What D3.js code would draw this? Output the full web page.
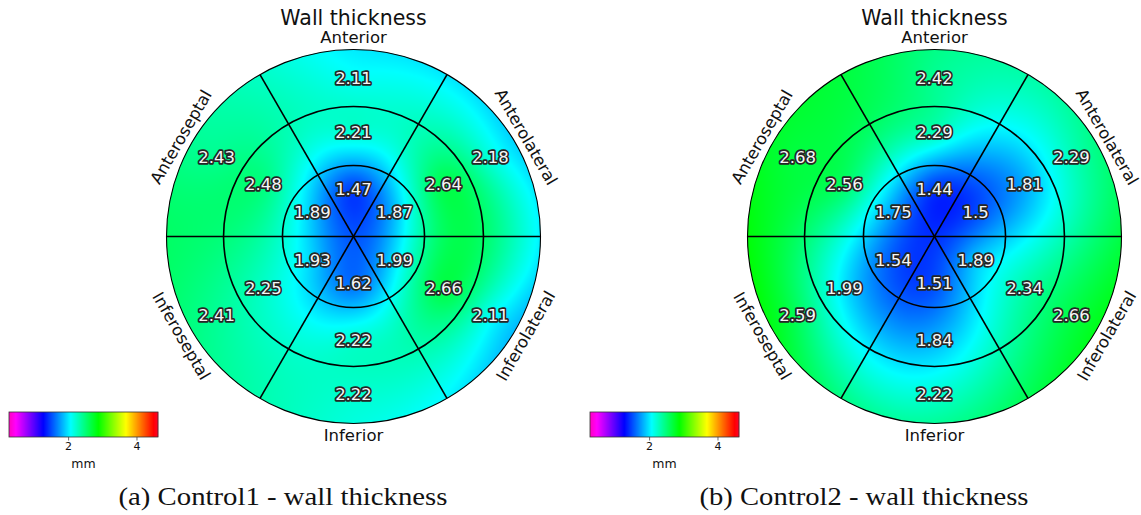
<!DOCTYPE html>
<html><head><meta charset="utf-8">
<script src="https://cdn.jsdelivr.net/npm/d3@7"></script>
<style>body{margin:0;background:#fff} svg{display:block}</style>
</head><body>
<svg id="chart" width="1141" height="515"></svg>
<script>
// ---------- data ----------
const segmentNames  = ["Anterior","Anteroseptal","Inferoseptal","Inferior","Inferolateral","Anterolateral"];
const segmentAngles = [90,150,210,270,330,30];          // degrees, counter-clockwise from +x
const control1Outer = [2.11,2.43,2.41,2.22,2.11,2.18];
const control1Mid   = [2.21,2.48,2.25,2.22,2.66,2.64];
const control1Inner = [1.47,1.89,1.93,1.62,1.99,1.87];
const control2Outer = [2.42,2.68,2.59,2.22,2.66,2.29];
const control2Mid   = [2.29,2.56,1.99,1.84,2.34,1.81];
const control2Inner = [1.44,1.75,1.54,1.51,1.89,1.5];
const ringEdges   = [0.38, 0.695, 1];
const labelRadii  = [0.254, 0.556, 0.845];              // inner, mid, outer
const colorTicks  = [2,4];
const colorDomain = [0.27, 4.63];
const chartTitle  = "Wall thickness";
const unitLabel   = "mm";
const captions    = ["(a) Control1 - wall thickness", "(b) Control2 - wall thickness"];

// gist_rainbow_r colormap stops
const cmapStops  = [0, 0.046, 0.230, 0.414, 0.600, 0.785, 0.970, 1];
const cmapColors = ["#ff00bf","#ff00ff","#0000ff","#00ffff","#00ff00","#ffff00","#ff0000","#ff0029"];

const svg = d3.select("#chart");
const defs = svg.append("defs");

const color = d3.scaleLinear()
  .domain(cmapStops.map(s => colorDomain[0] + s*(colorDomain[1]-colorDomain[0])))
  .range(cmapColors).interpolate(d3.interpolateRgb).clamp(true);

const R = 187;
const rScale = d3.scaleLinear().domain([0,1]).range([0,R]);

// thin plate spline interpolation
function tps(nodes){
  const n = nodes.length, N = n+3;
  const U = r => r<1e-12 ? 0 : r*r*Math.log(r);
  const A = Array.from({length:N}, () => new Array(N+1).fill(0));
  for(let i=0;i<n;i++){
    for(let j=0;j<n;j++){
      A[i][j] = U(Math.hypot(nodes[i].x-nodes[j].x, nodes[i].y-nodes[j].y));
    }
    A[i][n]=1; A[i][n+1]=nodes[i].x; A[i][n+2]=nodes[i].y;
    A[n][i]=1; A[n+1][i]=nodes[i].x; A[n+2][i]=nodes[i].y;
    A[i][N]=nodes[i].v;
  }
  for(let c=0;c<N;c++){
    let p=c; for(let r=c+1;r<N;r++) if(Math.abs(A[r][c])>Math.abs(A[p][c])) p=r;
    [A[c],A[p]]=[A[p],A[c]];
    for(let r=0;r<N;r++){ if(r===c) continue; const f=A[r][c]/A[c][c]; if(f) for(let k=c;k<=N;k++) A[r][k]-=f*A[c][k]; }
  }
  const w = A.map((row,i)=>row[N]/row[i]);
  return (x,y) => {
    let s = w[n] + w[n+1]*x + w[n+2]*y;
    for(let i=0;i<n;i++) s += w[i]*U(Math.hypot(x-nodes[i].x, y-nodes[i].y));
    return s;
  };
}

const rad = d => d*Math.PI/180;

function drawChart(idx, cx, cy, inner, mid, outer, capX){
  const g = svg.append("g");
  const rings = [inner, mid, outer];
  const nodes = [];
  rings.forEach((vals,ri) => vals.forEach((v,si) => {
    const a = rad(segmentAngles[si]);
    nodes.push({x: labelRadii[ri]*Math.cos(a), y: labelRadii[ri]*Math.sin(a), v});
  }));
  const f = tps(nodes);

  // field image
  const size = 2*R+2;
  const canvas = document.createElement("canvas");
  canvas.width = size; canvas.height = size;
  const ctx = canvas.getContext("2d");
  const img = ctx.createImageData(size,size);
  for(let py=0;py<size;py++){
    for(let px=0;px<size;px++){
      const x = (px+0.5-size/2)/R, y = -(py+0.5-size/2)/R;
      const c = d3.rgb(color(f(x,y)));
      const k = 4*(py*size+px);
      img.data[k]=c.r; img.data[k+1]=c.g; img.data[k+2]=c.b; img.data[k+3]=255;
    }
  }
  ctx.putImageData(img,0,0);
  const clipId = "clip"+idx;
  defs.append("clipPath").attr("id",clipId).append("circle").attr("cx",cx).attr("cy",cy).attr("r",R);
  g.append("image").attr("href",canvas.toDataURL()).attr("x",cx-size/2).attr("y",cy-size/2)
    .attr("width",size).attr("height",size).attr("clip-path",`url(#${clipId})`);

  // radial lines
  g.selectAll("line.sep").data([0,60,120]).join("line")
    .attr("x1",d=>cx+rScale(1)*Math.cos(rad(d))).attr("y1",d=>cy-rScale(1)*Math.sin(rad(d)))
    .attr("x2",d=>cx-rScale(1)*Math.cos(rad(d))).attr("y2",d=>cy+rScale(1)*Math.sin(rad(d)))
    .attr("stroke","#000").attr("stroke-width",1.6);
  // rings
  g.selectAll("circle.ring").data(ringEdges).join("circle")
    .attr("cx",cx).attr("cy",cy).attr("r",d=>rScale(d))
    .attr("fill","none").attr("stroke","#000").attr("stroke-width",d=>d===1?1.1:1.6);

  // values
  nodes.forEach(nd => {
    g.append("text").attr("x",cx+rScale(nd.x)).attr("y",cy-rScale(nd.y))
      .attr("text-anchor","middle").attr("dominant-baseline","central")
      .attr("font-family","DejaVu Sans").attr("font-size",16.5)
      .attr("fill","#f6f6f6").attr("stroke","#262626").attr("stroke-width",3.4)
      .attr("paint-order","stroke").attr("stroke-linejoin","round")
      .text(String(nd.v));
  });

  // section names
  segmentNames.forEach((name,si) => {
    const a = segmentAngles[si];
    const lr = 199;
    const x = cx + lr*Math.cos(rad(a)), y = cy - lr*Math.sin(rad(a));
    const rot = (a===90||a===270) ? 0 : (a===150||a===330 ? -60 : 60);
    g.append("text").attr("transform",`translate(${x},${y}) rotate(${rot})`)
      .attr("text-anchor","middle").attr("dominant-baseline","central")
      .attr("font-family","DejaVu Sans").attr("font-size",16.5).attr("fill","#111")
      .text(name);
  });

  // title
  g.append("text").attr("x",cx).attr("y",25).attr("text-anchor","middle")
    .attr("font-family","DejaVu Sans").attr("font-size",20.5).attr("fill","#111").text(chartTitle);

  // colorbar
  const cbX = cx-344.5, cbY = 412, cbW = 149, cbH = 25;
  const cbScale = d3.scaleLinear().domain(colorDomain).range([cbX, cbX+cbW]);
  const steps = d3.range(0, cbW, 1);
  g.selectAll("rect.cb").data(steps).join("rect")
    .attr("x",d=>cbX+d).attr("y",cbY).attr("width",1.2).attr("height",cbH)
    .attr("fill",d=>color(cbScale.invert(cbX+d+0.5)));
  g.append("rect").attr("x",cbX).attr("y",cbY).attr("width",cbW).attr("height",cbH)
    .attr("fill","none").attr("stroke","#333").attr("stroke-width",0.8);
  const ax = g.append("g").attr("transform",`translate(0,${cbY+cbH})`)
    .call(d3.axisBottom(cbScale).tickValues(colorTicks).tickSize(3.5).tickPadding(2).tickFormat(d3.format("d")));
  ax.select(".domain").remove();
  ax.selectAll("line").attr("stroke","#444").attr("stroke-width",0.8);
  ax.selectAll("text").attr("font-family","DejaVu Sans").attr("font-size",11).attr("fill","#111");
  g.append("text").attr("x",cbX+cbW/2).attr("y",468).attr("text-anchor","middle")
    .attr("font-family","DejaVu Sans").attr("font-size",12.5).attr("fill","#111").text(unitLabel);

  // caption
  g.append("text").attr("x",capX).attr("y",505).attr("text-anchor","middle")
    .attr("font-family","Liberation Serif").attr("font-size",25).attr("fill","#111")
    .attr("textLength",329).attr("lengthAdjust","spacingAndGlyphs")
    .text(captions[idx]);
}

drawChart(0, 353.5, 236.5, control1Inner, control1Mid, control1Outer, 283);
drawChart(1, 934.5, 236.5, control2Inner, control2Mid, control2Outer, 864);
</script>
</body></html>
